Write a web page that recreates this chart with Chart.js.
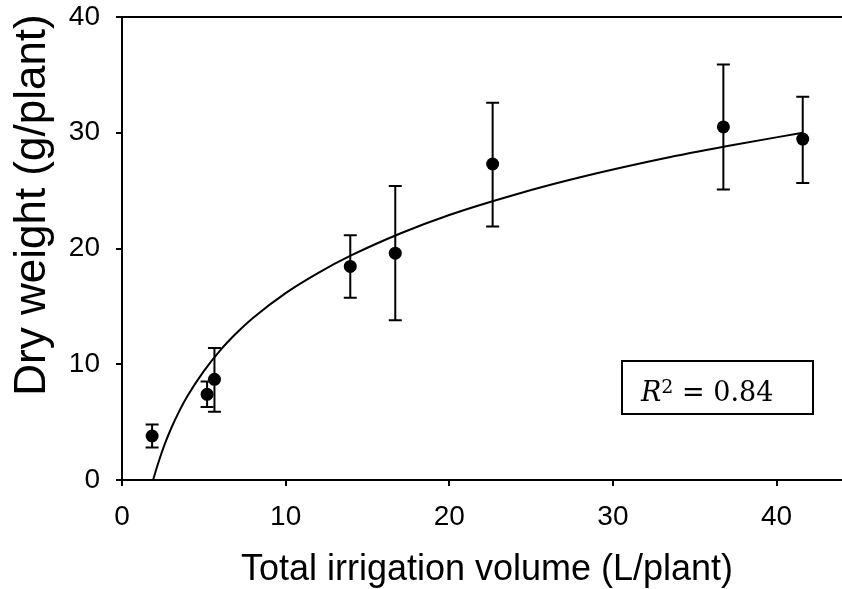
<!DOCTYPE html>
<html>
<head>
<meta charset="utf-8">
<script src="https://cdn.jsdelivr.net/npm/chart.js@4"></script>
<style>
html, body { margin: 0; padding: 0; background: #fff; }
#wrap { width: 842px; height: 589px; }
</style>
</head>
<body>
<div id="wrap"><canvas id="chart" width="842" height="589"></canvas></div>
<script>
// measured points (mean +/- error)
const volume = [1.84, 5.2, 5.65, 13.95, 16.7, 22.65, 36.75, 41.6];
const dryWeight = [3.8, 7.4, 8.7, 18.45, 19.6, 27.3, 30.5, 29.45];
const errLow = [2.8, 6.3, 5.9, 15.75, 13.8, 21.9, 25.1, 25.65];
const errHigh = [4.8, 8.5, 11.4, 21.15, 25.4, 32.6, 35.9, 33.1];

// fitted curve
const fitX = [1.9, 2.2, 2.6, 3, 3.5, 4, 5, 6, 7, 8, 10, 12, 14, 17, 20, 24, 28, 33, 37, 41.6];
const fitY = [0, 1.4, 3.05, 4.45, 5.95, 7.25, 9.4, 11.2, 12.7, 14.0, 16.15, 17.9, 19.4, 21.3, 22.9, 24.65, 26.15, 27.75, 28.85, 30.0];

const xTicks = [0, 10, 20, 30, 40];
const yTicks = [0, 10, 20, 30, 40];
const xTitle = 'Total irrigation volume (L/plant)';
const yTitle = 'Dry weight (g/plant)';
const r2Value = '0.84';

const sans = '"Liberation Sans", Arial, sans-serif';
const serif = '"DejaVu Serif", "Liberation Serif", serif';

const extras = {
    id: 'extras',
    beforeDatasetsDraw(chart) {
        const { ctx, scales: { x, y } } = chart;
        ctx.save();
        ctx.strokeStyle = '#000';
        ctx.lineWidth = 2;
        volume.forEach((v, i) => {
            const px = x.getPixelForValue(v);
            const top = y.getPixelForValue(errHigh[i]);
            const bot = y.getPixelForValue(errLow[i]);
            ctx.beginPath();
            ctx.moveTo(px, top); ctx.lineTo(px, bot);
            ctx.moveTo(px - 6.5, top); ctx.lineTo(px + 6.5, top);
            ctx.moveTo(px - 6.5, bot); ctx.lineTo(px + 6.5, bot);
            ctx.stroke();
        });
        ctx.restore();
    },
    afterDraw(chart) {
        const { ctx, chartArea: a } = chart;
        ctx.save();
        ctx.strokeStyle = '#000';
        ctx.fillStyle = '#000';
        ctx.lineWidth = 2;
        // top frame line
        ctx.beginPath();
        ctx.moveTo(a.left - 1, a.top);
        ctx.lineTo(a.right, a.top);
        ctx.stroke();

        // axis titles
        ctx.textAlign = 'center';
        ctx.textBaseline = 'alphabetic';
        ctx.font = '36px ' + sans;
        ctx.fillText(xTitle, 487, 580);
        ctx.save();
        ctx.translate(45, 205);
        ctx.rotate(-Math.PI / 2);
        ctx.font = '44px ' + sans;
        ctx.fillText(yTitle, 0, 0);
        ctx.restore();

        // R^2 box
        ctx.strokeRect(622, 361, 191, 53);
        ctx.textAlign = 'left';
        let tx = 641;
        const base = 401;
        ctx.font = 'italic 27px ' + serif;
        ctx.fillText('R', tx, base);
        tx += ctx.measureText('R').width;
        ctx.font = '19px ' + serif;
        ctx.fillText('2', tx, base - 8);
        tx += ctx.measureText('2').width;
        ctx.font = '27px ' + serif;
        ctx.fillText(' = ' + r2Value, tx, base);
        ctx.restore();
    }
};

const axisGrid = { drawOnChartArea: false, drawTicks: true, tickLength: 6, color: '#000', lineWidth: 2 };

new Chart(document.getElementById('chart'), {
    type: 'scatter',
    data: {
        datasets: [
            {
                label: 'Fit',
                data: fitX.map((v, i) => ({ x: v, y: fitY[i] })),
                showLine: true,
                borderColor: '#000',
                borderWidth: 2,
                pointRadius: 0,
                cubicInterpolationMode: 'monotone',
                fill: false
            },
            {
                label: 'Dry weight',
                data: volume.map((v, i) => ({ x: v, y: dryWeight[i] })),
                showLine: false,
                backgroundColor: '#000',
                borderColor: '#000',
                borderWidth: 0,
                pointRadius: 6.5
            }
        ]
    },
    options: {
        responsive: false,
        animation: false,
        devicePixelRatio: 1,
        layout: { autoPadding: false, padding: { top: 17, right: 0, bottom: 0, left: 0 } },
        plugins: { legend: { display: false }, tooltip: { enabled: false } },
        scales: {
            x: {
                type: 'linear',
                min: 0,
                max: 44,
                afterBuildTicks: s => { s.ticks = xTicks.map(v => ({ value: v })); },
                afterFit: s => { s.height = 109; s.paddingLeft = 0; s.paddingRight = 0; },
                ticks: { color: '#000', font: { family: sans, size: 28 }, padding: 14, maxRotation: 0 },
                grid: axisGrid,
                border: { color: '#000', width: 2 }
            },
            y: {
                min: 0,
                max: 40,
                afterBuildTicks: s => { s.ticks = yTicks.map(v => ({ value: v })); },
                afterFit: s => { s.width = 122; s.paddingTop = 0; s.paddingBottom = 0; },
                ticks: { color: '#000', font: { family: sans, size: 28 }, padding: 16 },
                grid: axisGrid,
                border: { color: '#000', width: 2 }
            }
        }
    },
    plugins: [extras]
});
</script>
</body>
</html>
